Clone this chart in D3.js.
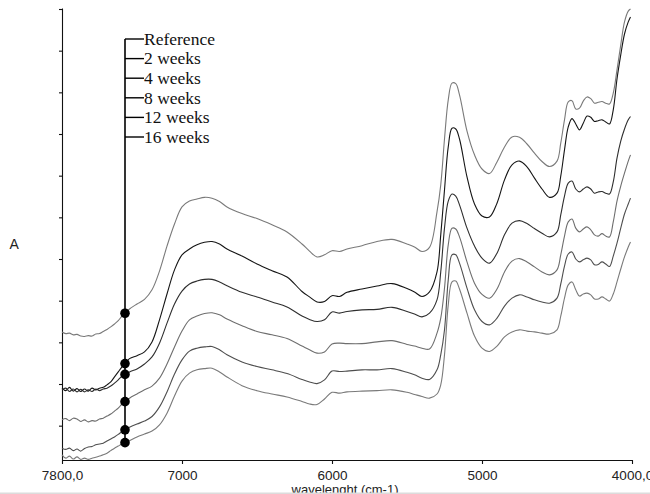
<!DOCTYPE html>
<html>
<head>
<meta charset="utf-8">
<script src="https://cdn.jsdelivr.net/npm/d3@7"></script>
<style>
  html, body { margin: 0; padding: 0; background: #fff; }
  svg { display: block; }
</style>
</head>
<body>
<svg id="chart" width="650" height="494"></svg>
<script>
// NIR spectra: wavenumber grid (cm-1) and absorbance of each ageing stage
const wavenumbers = [
  7800,7775,7750,7725,7700,7675,7650,7625,7600,7575,7550,7525,7500,7475,7450,7425,7400,
  7350,7300,7250,7200,7150,7100,7050,7000,6950,6900,6850,6800,6750,6700,
  6600,6500,6400,6300,6200,6150,6100,6050,6000,5950,5900,
  5800,5700,5600,5500,5450,5400,5350,5300,5275,5250,5225,5200,5175,5150,
  5100,5050,5000,4950,4900,4850,4800,4750,4700,4650,4600,4550,
  4500,4475,4450,4425,4400,4375,4350,4325,4300,4275,4250,4225,4200,4175,4150,4125,4100,4075,4050,4025,4010
];

const seriesNames = ["Reference", "2 weeks", "4 weeks", "8 weeks", "12 weeks", "16 weeks"];

const reference = [
  0.225,0.221,0.222,0.218,0.219,0.215,0.214,0.216,0.215,0.220,0.221,0.226,0.231,0.237,0.244,0.252,0.263,
  0.280,0.292,0.303,0.326,0.371,0.431,0.484,0.525,0.539,0.544,0.548,0.546,0.538,0.525,
  0.509,0.497,0.482,0.465,0.436,0.419,0.405,0.410,0.420,0.418,0.424,
  0.432,0.442,0.447,0.436,0.429,0.418,0.428,0.513,0.578,0.688,0.782,0.822,0.821,0.794,
  0.707,0.650,0.616,0.605,0.633,0.669,0.693,0.692,0.676,0.654,0.634,0.622,
  0.635,0.678,0.734,0.777,0.780,0.760,0.762,0.779,0.789,0.785,0.774,0.776,0.778,0.774,0.772,0.798,0.854,0.914,0.969,0.995,1.000
];

const weeks2 = [
  0.090,0.084,0.092,0.083,0.089,0.082,0.088,0.083,0.090,0.086,0.090,0.092,0.098,0.105,0.117,0.129,0.141,
  0.161,0.168,0.177,0.201,0.254,0.316,0.374,0.410,0.424,0.434,0.440,0.442,0.436,0.424,
  0.407,0.388,0.372,0.357,0.322,0.309,0.297,0.298,0.312,0.310,0.320,
  0.328,0.335,0.341,0.329,0.321,0.310,0.321,0.369,0.458,0.566,0.669,0.714,0.712,0.688,
  0.597,0.532,0.503,0.501,0.534,0.590,0.626,0.635,0.621,0.594,0.568,0.548,
  0.558,0.599,0.662,0.717,0.737,0.724,0.710,0.726,0.743,0.740,0.730,0.732,0.734,0.729,0.724,0.758,0.832,0.890,0.940,0.969,0.981
];

const weeks4 = [
  0.086,0.090,0.082,0.088,0.081,0.087,0.081,0.086,0.082,0.088,0.084,0.088,0.090,0.095,0.102,0.110,0.119,
  0.129,0.136,0.148,0.165,0.198,0.246,0.292,0.323,0.340,0.347,0.351,0.351,0.345,0.336,
  0.320,0.309,0.297,0.285,0.263,0.255,0.250,0.254,0.273,0.270,0.274,
  0.278,0.279,0.284,0.274,0.268,0.261,0.270,0.302,0.369,0.474,0.539,0.556,0.551,0.530,
  0.474,0.431,0.402,0.390,0.414,0.458,0.486,0.492,0.485,0.473,0.462,0.453,
  0.465,0.506,0.551,0.582,0.587,0.568,0.561,0.568,0.573,0.568,0.558,0.561,0.562,0.558,0.556,0.585,0.642,0.683,0.712,0.734,0.742
];

const weeks8 = [
  0.014,0.017,0.012,0.018,0.016,0.010,0.014,0.009,0.012,0.011,0.016,0.018,0.023,0.028,0.035,0.042,0.052,
  0.066,0.076,0.086,0.095,0.114,0.148,0.189,0.227,0.254,0.263,0.269,0.271,0.266,0.256,
  0.240,0.226,0.218,0.209,0.191,0.182,0.174,0.177,0.196,0.198,0.197,
  0.197,0.201,0.204,0.195,0.191,0.186,0.184,0.222,0.258,0.330,0.434,0.474,0.472,0.453,
  0.393,0.342,0.315,0.306,0.328,0.369,0.395,0.401,0.393,0.381,0.369,0.362,
  0.374,0.410,0.455,0.489,0.496,0.474,0.465,0.472,0.477,0.470,0.458,0.455,0.461,0.455,0.453,0.489,0.539,0.575,0.606,0.635,0.650
];

const weeks12 = [
  -0.054,-0.057,-0.054,-0.060,-0.056,-0.061,-0.055,-0.051,-0.050,-0.046,-0.044,-0.042,-0.037,-0.032,-0.027,-0.021,-0.014,
  -0.004,0.004,0.011,0.022,0.045,0.081,0.124,0.158,0.179,0.186,0.189,0.190,0.182,0.170,
  0.153,0.142,0.134,0.125,0.111,0.105,0.101,0.110,0.131,0.130,0.131,
  0.134,0.134,0.137,0.128,0.122,0.114,0.111,0.134,0.170,0.230,0.350,0.410,0.410,0.390,
  0.330,0.278,0.250,0.242,0.258,0.287,0.306,0.314,0.309,0.302,0.297,0.294,
  0.306,0.340,0.383,0.412,0.417,0.400,0.393,0.398,0.402,0.398,0.386,0.387,0.393,0.388,0.382,0.407,0.438,0.474,0.508,0.532,0.546
];

const weeks16 = [
  -0.070,-0.078,-0.073,-0.080,-0.075,-0.081,-0.078,-0.081,-0.078,-0.076,-0.073,-0.070,-0.066,-0.060,-0.054,-0.049,-0.044,
  -0.036,-0.027,-0.020,-0.013,0.002,0.030,0.071,0.107,0.126,0.134,0.137,0.138,0.129,0.117,
  0.096,0.084,0.076,0.069,0.058,0.052,0.051,0.064,0.080,0.078,0.081,
  0.083,0.084,0.086,0.080,0.075,0.070,0.066,0.076,0.098,0.170,0.290,0.345,0.347,0.328,
  0.270,0.215,0.186,0.178,0.191,0.213,0.225,0.230,0.227,0.225,0.222,0.220,
  0.230,0.263,0.306,0.338,0.345,0.326,0.311,0.316,0.318,0.314,0.304,0.304,0.309,0.304,0.299,0.316,0.345,0.376,0.405,0.429,0.441
];

const seriesValues = [reference, weeks2, weeks4, weeks8, weeks12, weeks16];

// axis ticks
const xTickValues = [7800, 7000, 6000, 5000, 4000];
const xTickLabels = ["7800,0", "7000", "6000", "5000", "4000,0"];
const yTickValues = [0, 0.1, 0.2, 0.3, 0.4, 0.5, 0.6, 0.7, 0.8, 0.9, 1.0];

// wavenumber at which the legend leader line marks each spectrum
const markerWavenumber = 7380;

// ---- styling ----
const lineColors = ["#7a7a7a", "#151515", "#2e2e2e", "#6e6e6e", "#4e4e4e", "#7a7a7a"];

const svg = d3.select("#chart");

const x = d3.scaleLinear().domain([7800, 4000]).range([62, 632]);
const y = d3.scaleLinear().domain([-0.0824, 1.0024]).range([460, 8]);

// axes
const yAxis = d3.axisLeft(y).tickValues(yTickValues).tickFormat("").tickSize(3).tickSizeOuter(0);
const gy = svg.append("g").attr("transform", "translate(62,0)").call(yAxis);
gy.selectAll("path, line").attr("stroke", "#111").attr("stroke-width", 1.1);

const xAxis = d3.axisBottom(x).tickValues(xTickValues)
  .tickFormat((d, i) => xTickLabels[i]).tickSize(4).tickSizeOuter(0).tickPadding(6);
const gx = svg.append("g").attr("transform", "translate(0,460)").call(xAxis);
gx.selectAll("path, line").attr("stroke", "#111").attr("stroke-width", 1.1);
gx.selectAll("text")
  .attr("font-family", "Liberation Sans, Arial, sans-serif")
  .attr("font-size", 13.5).attr("fill", "#222");

svg.append("text")
  .attr("x", 345).attr("y", 493.5)
  .attr("text-anchor", "middle")
  .attr("font-family", "Liberation Sans, Arial, sans-serif")
  .attr("font-size", 13).attr("fill", "#222")
  .text("wavelenght (cm-1)");

// bottom strip of the frame
svg.append("rect").attr("x", 0).attr("y", 492.5).attr("width", 650).attr("height", 1.5)
  .attr("fill", "#dcdcdc");

svg.append("text")
  .attr("x", 9.5).attr("y", 248.5)
  .attr("font-family", "Liberation Sans, Arial, sans-serif")
  .attr("font-size", 14).attr("fill", "#222")
  .text("A");

// spectra
const line = d3.line()
  .x((d, i) => x(wavenumbers[i]))
  .y(d => y(d))
  .curve(d3.curveCatmullRom.alpha(0.5));

svg.append("g").selectAll("path")
  .data(seriesValues)
  .join("path")
  .attr("d", d => line(d))
  .attr("fill", "none")
  .attr("stroke", (d, i) => lineColors[i])
  .attr("stroke-width", 1.1)
  .attr("stroke-linejoin", "round");

// value of a spectrum at a given wavenumber (linear between grid points)
function valueAt(values, w) {
  for (let i = 0; i < wavenumbers.length - 1; i++) {
    const w0 = wavenumbers[i], w1 = wavenumbers[i + 1];
    if (w <= w0 && w >= w1) {
      const t = (w0 - w) / (w0 - w1);
      return values[i] + t * (values[i + 1] - values[i]);
    }
  }
  return values[values.length - 1];
}

// legend: leader line with labelled stubs and a dot on each spectrum
const mx = x(markerWavenumber);
const legendTop = 39, legendStep = 19.6;
const markerValues = seriesValues.map(v => valueAt(v, markerWavenumber));
const lowest = d3.max(markerValues.map(v => y(v)));

const legend = svg.append("g");
legend.append("line")
  .attr("x1", mx).attr("x2", mx)
  .attr("y1", legendTop).attr("y2", lowest)
  .attr("stroke", "#000").attr("stroke-width", 1.6);

seriesNames.forEach((name, i) => {
  const ly = legendTop + i * legendStep;
  legend.append("line")
    .attr("x1", mx).attr("x2", mx + 19)
    .attr("y1", ly).attr("y2", ly)
    .attr("stroke", "#000").attr("stroke-width", 1.4);
  legend.append("text")
    .attr("x", mx + 19).attr("y", ly + 5.8)
    .attr("font-family", "Liberation Serif, Times New Roman, serif")
    .attr("font-size", 17.5).attr("fill", "#111")
    .text(name);
});

legend.selectAll("circle")
  .data(markerValues)
  .join("circle")
  .attr("cx", mx)
  .attr("cy", d => y(d))
  .attr("r", 4.8)
  .attr("fill", "#000");
</script>
</body>
</html>
